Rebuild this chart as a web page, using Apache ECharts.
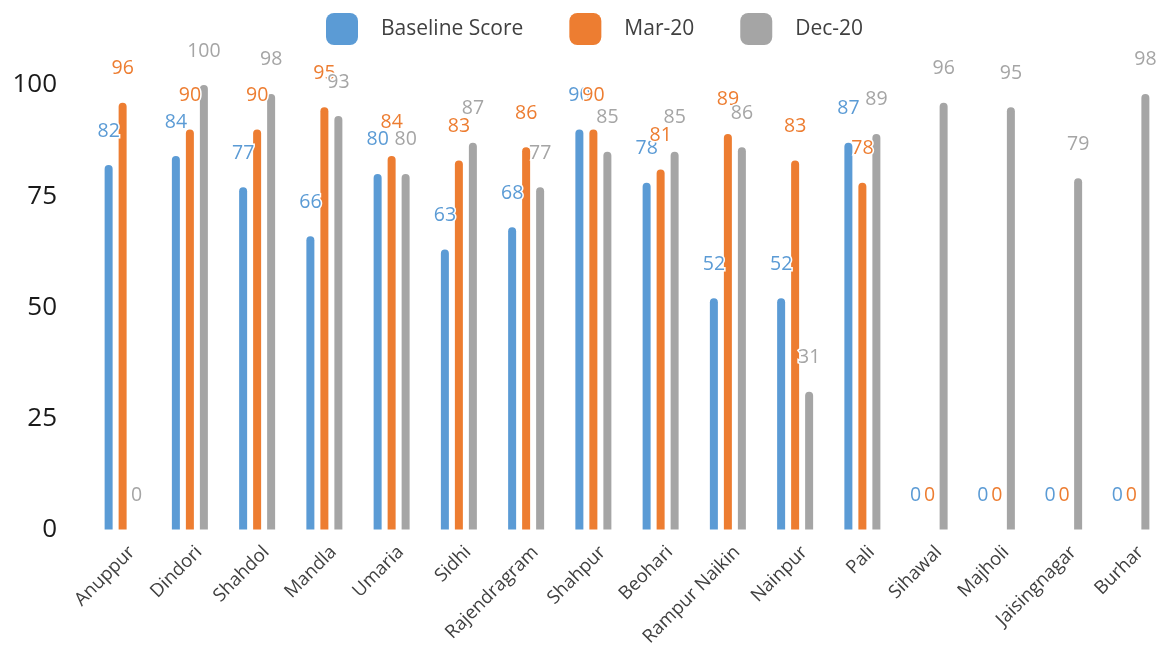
<!DOCTYPE html>
<html lang="en">

<head>
    <meta charset="UTF-8">
    <title>Scores</title>
    <style>
        html, body {
            margin: 0;
            padding: 0;
            background: #fff;
        }

        #main {
            width: 1165px;
            height: 649px;
        }
    </style>
    <script src="https://cdnjs.cloudflare.com/ajax/libs/echarts/6.0.0/echarts.min.js"></script>
</head>

<body>
    <div id="main"></div>
    <script>
        const categories = ['Anuppur', 'Dindori', 'Shahdol', 'Mandla', 'Umaria', 'Sidhi', 'Rajendragram',
            'Shahpur', 'Beohari', 'Rampur Naikin', 'Nainpur', 'Pali', 'Sihawal', 'Majholi', 'Jaisingnagar', 'Burhar'];
        const baseline = [82, 84, 77, 66, 80, 63, 68, 90, 78, 52, 52, 87, 0, 0, 0, 0];
        const mar20 = [96, 90, 90, 95, 84, 83, 86, 90, 81, 89, 83, 78, 0, 0, 0, 0];
        const dec20 = [0, 100, 98, 93, 80, 87, 77, 85, 85, 86, 31, 89, 96, 95, 79, 98];
        const yTicks = [0, 25, 50, 75, 100];

        const chart = echarts.init(document.getElementById('main'));
        const font = '"Open Sans", "Noto Sans", sans-serif';

        function makeSeries(name, data, color) {
            return {
                name: name,
                type: 'bar',
                data: data,
                barWidth: 8,
                barGap: '75%',
                itemStyle: {
                    color: color,
                    borderRadius: [4, 4, 0, 0]
                },
                label: {
                    show: true,
                    position: 'top',
                    distance: 24,
                    color: color,
                    fontSize: 19.5,
                    fontFamily: font,
                    textBorderColor: '#fff',
                    textBorderWidth: 3
                }
            };
        }

        const option = {
            animation: false,
            textStyle: { fontFamily: font },
            legend: {
                top: 8,
                left: 321,
                itemWidth: 32,
                itemHeight: 32,
                itemGap: 46,
                icon: 'roundRect',
                textStyle: {
                    fontSize: 21,
                    color: '#404040',
                    fontFamily: font,
                    padding: [0, 0, 0, 18]
                },
                data: ['Baseline Score', 'Mar-20', 'Dec-20']
            },
            grid: {
                left: 89,
                right: -1,
                top: 85,
                bottom: 118
            },
            xAxis: {
                type: 'category',
                data: categories,
                axisLine: { show: false },
                axisTick: { show: false },
                axisLabel: {
                    rotate: 45,
                    interval: 0,
                    margin: 29,
                    padding: [0, -13, 0, 0],
                    fontSize: 18.5,
                    color: '#404040',
                    fontFamily: font
                }
            },
            yAxis: {
                type: 'value',
                min: yTicks[0],
                max: yTicks[yTicks.length - 1],
                interval: 25,
                axisLine: { show: false },
                axisTick: { show: false },
                splitLine: { show: false },
                axisLabel: {
                    margin: 32,
                    fontSize: 26,
                    color: '#1a1a1a',
                    fontFamily: font
                }
            },
            series: [
                makeSeries('Baseline Score', baseline, '#5B9BD5'),
                makeSeries('Mar-20', mar20, '#ED7D31'),
                makeSeries('Dec-20', dec20, '#A5A5A5')
            ]
        };

        chart.setOption(option);
    </script>
</body>

</html>
